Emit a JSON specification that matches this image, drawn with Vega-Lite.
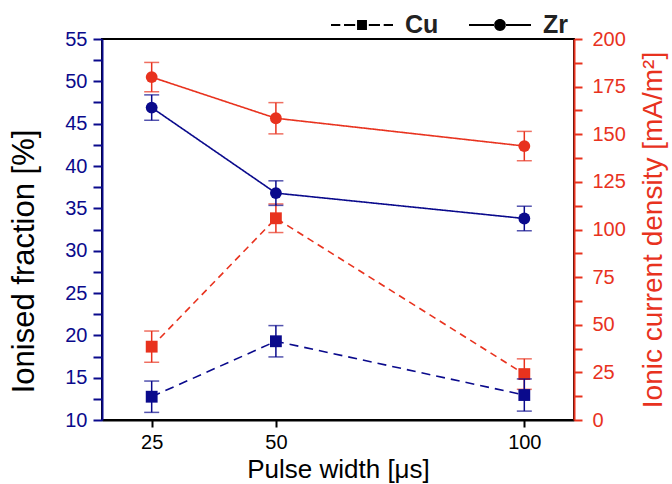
{
  "$schema": "https://vega.github.io/schema/vega-lite/v6.json",
  "width": 472,
  "height": 381,
  "autosize": "none",
  "padding": {"left": 102, "top": 39, "right": 98, "bottom": 64},
  "config": {
    "font": "Liberation Sans",
    "view": {"stroke": "black", "strokeWidth": 2},
    "axis": {"grid": false, "labelFlush": false, "labelOverlap": false}
  },
  "data": {
    "values": [
      {"pulse": 25, "m": "Zr", "q": "frac", "v": 46.9, "e": 1.5},
      {"pulse": 50, "m": "Zr", "q": "frac", "v": 36.8, "e": 1.45},
      {"pulse": 100, "m": "Zr", "q": "frac", "v": 33.8, "e": 1.45},
      {"pulse": 25, "m": "Cu", "q": "frac", "v": 12.75, "e": 1.85},
      {"pulse": 50, "m": "Cu", "q": "frac", "v": 19.3, "e": 1.85},
      {"pulse": 100, "m": "Cu", "q": "frac", "v": 12.95, "e": 1.9},
      {"pulse": 25, "m": "Zr", "q": "cur", "v": 180, "e": 7.7},
      {"pulse": 50, "m": "Zr", "q": "cur", "v": 158.4, "e": 8.2},
      {"pulse": 100, "m": "Zr", "q": "cur", "v": 143.8, "e": 7.7},
      {"pulse": 25, "m": "Cu", "q": "cur", "v": 38.5, "e": 8.2},
      {"pulse": 50, "m": "Cu", "q": "cur", "v": 105.9, "e": 7.5},
      {"pulse": 100, "m": "Cu", "q": "cur", "v": 24.1, "e": 8}
    ]
  },
  "encoding": {
    "x": {
      "field": "pulse",
      "type": "quantitative",
      "scale": {"domain": [15, 110], "nice": false, "zero": false},
      "axis": {
        "values": [25, 50, 100],
        "title": "Pulse width [μs]",
        "domainColor": "black",
        "domainWidth": 2,
        "tickColor": "black",
        "tickWidth": 2,
        "tickSize": 7,
        "labelFontSize": 20,
        "labelColor": "black",
        "labelPadding": 5,
        "titleFontSize": 26,
        "titleFontWeight": "normal",
        "titleColor": "black",
        "titlePadding": 4
      }
    }
  },
  "layer": [
    {
      "transform": [{"filter": "datum.q === 'cur'"}],
      "encoding": {
        "y": {
          "field": "v",
          "type": "quantitative",
          "scale": {"domain": [0, 200], "nice": false, "zero": false},
          "axis": {
            "orient": "right",
            "title": "Ionic current density [mA/m²]",
            "values": [0, 12.5, 25, 37.5, 50, 62.5, 75, 87.5, 100, 112.5, 125, 137.5, 150, 162.5, 175, 187.5, 200],
            "labelExpr": "datum.value % 25 === 0 ? datum.label : ''",
            "domainColor": "#e8321e",
            "domainWidth": 2,
            "tickColor": "#e8321e",
            "tickWidth": 2,
            "tickSize": 8,
            "labelColor": "#e8321e",
            "labelFontSize": 20,
            "labelPadding": 10,
            "titleColor": "#e8321e",
            "titleFontSize": 28,
            "titleFontWeight": "normal",
            "titleAngle": 270,
            "titleBaseline": "top",
            "titlePadding": 14
          }
        }
      },
      "layer": [
        {
          "mark": {"type": "errorbar", "color": "#e8321e", "thickness": 1.5, "ticks": {"size": 15, "thickness": 1.5}},
          "encoding": {"yError": {"field": "e"}}
        },
        {
          "mark": {"type": "line", "color": "#e8321e", "strokeWidth": 1.6},
          "encoding": {
            "detail": {"field": "m"},
            "strokeDash": {"field": "m", "type": "nominal", "scale": {"domain": ["Cu", "Zr"], "range": [[7, 5], [1, 0]]}, "legend": null}
          }
        },
        {
          "mark": {"type": "point", "filled": true, "color": "#e8321e", "opacity": 1, "size": 140},
          "encoding": {
            "shape": {"field": "m", "type": "nominal", "scale": {"domain": ["Cu", "Zr"], "range": ["square", "circle"]}, "legend": null}
          }
        }
      ]
    },
    {
      "transform": [{"filter": "datum.q === 'frac'"}],
      "encoding": {
        "y": {
          "field": "v",
          "type": "quantitative",
          "scale": {"domain": [10, 55], "nice": false, "zero": false},
          "axis": {
            "orient": "left",
            "title": "Ionised fraction [%]",
            "values": [10, 12.5, 15, 17.5, 20, 22.5, 25, 27.5, 30, 32.5, 35, 37.5, 40, 42.5, 45, 47.5, 50, 52.5, 55],
            "labelExpr": "datum.value % 5 === 0 ? datum.label : ''",
            "domainColor": "#0a0a8c",
            "domainWidth": 2,
            "tickColor": "#0a0a8c",
            "tickWidth": 2,
            "tickSize": 9,
            "labelColor": "#0a0a8c",
            "labelFontSize": 20,
            "labelPadding": 6,
            "titleColor": "black",
            "titleFontSize": 31,
            "titleFontWeight": "normal",
            "titlePadding": 24,
            "titleY": 222
          }
        }
      },
      "layer": [
        {
          "mark": {"type": "errorbar", "color": "#0a0a8c", "thickness": 1.5, "ticks": {"size": 15, "thickness": 1.5}},
          "encoding": {"yError": {"field": "e"}}
        },
        {
          "mark": {"type": "line", "color": "#0a0a8c", "strokeWidth": 1.6},
          "encoding": {
            "detail": {"field": "m"},
            "strokeDash": {"field": "m", "type": "nominal", "scale": {"domain": ["Cu", "Zr"], "range": [[9, 6], [1, 0]]}, "legend": null}
          }
        },
        {
          "mark": {"type": "point", "filled": true, "color": "#0a0a8c", "opacity": 1, "size": 140},
          "encoding": {
            "shape": {"field": "m", "type": "nominal", "scale": {"domain": ["Cu", "Zr"], "range": ["square", "circle"]}, "legend": null}
          }
        }
      ]
    },
    {
      "transform": [{"filter": "datum.q === 'frac'"}],
      "mark": {"type": "point", "filled": true, "color": "black", "opacity": 0},
      "encoding": {
        "shape": {
          "field": "m",
          "type": "nominal",
          "scale": {
            "domain": ["Cu", "Zr"],
            "range": [
              "M-1,-0.035H-0.7V0.035H-1Z M-0.58,-0.035H-0.22V0.035H-0.58Z M-0.16,-0.16H0.16V0.16H-0.16Z M0.22,-0.035H0.58V0.035H0.22Z M0.7,-0.035H1V0.035H0.7Z",
              "M-1,-0.035H-0.18V0.035H-1Z M0.18,-0.035H1V0.035H0.18Z M-0.19,0A0.19,0.19 0 1,0 0.19,0A0.19,0.19 0 1,0 -0.19,0Z"
            ]
          },
          "legend": {
            "title": null,
            "orient": "none",
            "legendX": 229,
            "legendY": -45,
            "direction": "horizontal",
            "padding": 0,
            "symbolSize": 3844,
            "symbolOpacity": 1,
            "symbolFillColor": "black",
            "symbolStrokeWidth": 0,
            "labelFont": "Liberation Sans",
            "labelFontSize": 25,
            "labelFontWeight": "bold",
            "labelColor": "#222222",
            "labelOffset": 12,
            "columnPadding": 30
          }
        }
      }
    }
  ],
  "resolve": {"scale": {"y": "independent", "shape": "independent", "strokeDash": "independent"}}
}
